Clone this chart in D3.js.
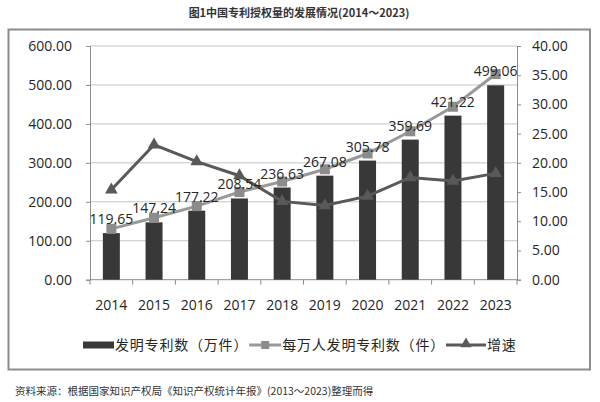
<!DOCTYPE html>
<html>
<head>
<meta charset="utf-8">
<script src="https://cdn.jsdelivr.net/npm/d3@7/dist/d3.min.js"></script>
<style>
  html, body { margin: 0; padding: 0; background: #fff; }
  svg { display: block; }
</style>
</head>
<body>
<svg id="chart" width="600" height="402"></svg>
<script>
const years = ["2014","2015","2016","2017","2018","2019","2020","2021","2022","2023"];
const patents = [119.65,147.24,177.22,208.54,236.63,267.08,305.78,359.69,421.22,499.06];
const perTenThousand = [8.7,10.6,12.6,15.0,16.8,18.9,21.6,25.4,29.6,35.2];
const growth = [15.4,23.1,20.2,17.8,13.4,12.7,14.3,17.5,16.9,18.2];
const leftTicks = [0,100,200,300,400,500,600];
const rightTicks = [0,5,10,15,20,25,30,35,40];
const legendLabels = ["发明专利数（万件）","每万人发明专利数（件）","增速"];
const titleText = "图1中国专利授权量的发展情况(2014～2023)";
const sourceText = "资料来源：根据国家知识产权局《知识产权统计年报》(2013～2023)整理而得";

const latin = "'Open Sans', 'Noto Sans', sans-serif";
const cjk = "'Noto Sans CJK SC', 'Noto Sans', sans-serif";
const barColor = "#383838", sqColor = "#999999", sqMarker = "#8c8c8c", triColor = "#595959";
const axisColor = "#8c8c8c", gridColor = "#c4c4c4", textColor = "#262626";

const svg = d3.select("#chart");
svg.append("rect").attr("width",600).attr("height",402).attr("fill","#fff");

// title
svg.append("text").attr("x",299).attr("y",17).attr("text-anchor","middle")
  .attr("font-family",cjk).attr("font-size",11).attr("font-weight","bold")
  .attr("fill","#333").text(titleText);

// frame
svg.append("rect").attr("x",8.5).attr("y",29.5).attr("width",581.5).attr("height",340)
  .attr("fill","none").attr("stroke",axisColor).attr("stroke-width",2);

const x0 = 90, x1 = 517, yTop = 46, yBot = 279.7;
const x = d3.scaleBand().domain(years).range([x0,x1]);
const yL = d3.scaleLinear().domain([0,600]).range([yBot,yTop]);
const yR = d3.scaleLinear().domain([0,40]).range([yBot,yTop]);
const cx = d => x(d) + x.bandwidth()/2;

// gridlines
svg.append("g").selectAll("line").data(leftTicks.filter(t=>t>0)).join("line")
  .attr("x1",x0).attr("x2",x1).attr("y1",d=>yL(d)).attr("y2",d=>yL(d))
  .attr("stroke",gridColor).attr("stroke-width",1);

// left axis
const gL = svg.append("g").attr("transform",`translate(${x0},0)`)
  .call(d3.axisLeft(yL).tickValues(leftTicks).tickSize(4).tickPadding(14).tickFormat(d3.format(".2f")));
// right axis
const gR = svg.append("g").attr("transform",`translate(${x1},0)`)
  .call(d3.axisRight(yR).tickValues(rightTicks).tickSize(4).tickPadding(11).tickFormat(d3.format(".2f")));
// x axis
const gX = svg.append("g").attr("transform",`translate(0,${yBot})`)
  .call(d3.axisBottom(x).tickSize(0).tickPadding(20));
// x tick marks at band boundaries
svg.append("g").selectAll("line").data(years.concat(["end"])).join("line")
  .attr("x1",(d,i)=> i<years.length ? x(d) : x1).attr("x2",(d,i)=> i<years.length ? x(d) : x1)
  .attr("y1",yBot).attr("y2",yBot+5).attr("stroke",axisColor);

[gL,gR,gX].forEach(g=>{
  g.select(".domain").attr("stroke",axisColor).attr("stroke-width",1);
  g.selectAll(".tick line").attr("stroke",axisColor);
  g.selectAll("text").attr("font-family",latin).attr("font-size",14).attr("fill",textColor);
});
gX.select(".domain").attr("d",`M${x0},0H${x1}`);

// bars
const bw = 17;
svg.append("g").selectAll("rect").data(years).join("rect")
  .attr("x",d=>cx(d)-bw/2).attr("width",bw)
  .attr("y",(d,i)=>yL(patents[i])).attr("height",(d,i)=>yBot-yL(patents[i]))
  .attr("fill",barColor);

// per ten-thousand line (squares)
const sqLine = d3.line().x((d,i)=>cx(years[i])).y(d=>yR(d));
svg.append("path").datum(perTenThousand).attr("d",sqLine)
  .attr("fill","none").attr("stroke",sqColor).attr("stroke-width",3);
svg.append("g").selectAll("rect").data(perTenThousand).join("rect")
  .attr("x",(d,i)=>cx(years[i])-5).attr("y",d=>yR(d)-5).attr("width",10).attr("height",10)
  .attr("fill",sqMarker);

// growth line (triangles)
const triLine = d3.line().x((d,i)=>cx(years[i])).y(d=>yR(d));
svg.append("path").datum(growth).attr("d",triLine)
  .attr("fill","none").attr("stroke",triColor).attr("stroke-width",3);
const tri = d3.symbol().type(d3.symbolTriangle).size(70);
svg.append("g").selectAll("path").data(growth).join("path")
  .attr("transform",(d,i)=>`translate(${cx(years[i])},${yR(d)})`)
  .attr("d",tri).attr("fill",triColor);

// data labels
svg.append("g").selectAll("text").data(patents).join("text")
  .attr("x",(d,i)=>cx(years[i])).attr("y",d=>yL(d)-9).attr("text-anchor","middle")
  .attr("font-family",latin).attr("font-size",14).attr("fill",textColor)
  .text(d=>d3.format(".2f")(d));

// legend
const lg = svg.append("g");
const ly = 345;
let lx = 83;
lg.append("rect").attr("x",lx).attr("y",ly-3.5).attr("width",31).attr("height",7).attr("fill",barColor);
lx += 32;
function legendText(t){
  const el = lg.append("text").attr("x",lx).attr("y",ly+5).attr("font-family",cjk)
    .attr("font-size",14).attr("letter-spacing","0.8px").attr("fill",textColor).text(t);
  lx += el.node().getComputedTextLength() + 1;
}
legendText(legendLabels[0]);
lg.append("line").attr("x1",lx).attr("x2",lx+32).attr("y1",ly).attr("y2",ly).attr("stroke",sqColor).attr("stroke-width",3);
lg.append("rect").attr("x",lx+12).attr("y",ly-4).attr("width",8).attr("height",8).attr("fill",sqMarker);
lx += 33;
legendText(legendLabels[1]);
lg.append("line").attr("x1",lx).attr("x2",lx+40).attr("y1",ly).attr("y2",ly).attr("stroke",triColor).attr("stroke-width",3);
lg.append("path").attr("transform",`translate(${lx+20},${ly-1})`).attr("d",d3.symbol().type(d3.symbolTriangle).size(55)).attr("fill",triColor);
lx += 41;
legendText(legendLabels[2]);

// source
svg.append("text").attr("x",15).attr("y",395).attr("font-family",cjk).attr("font-size",10.5)
  .attr("fill","#333").text(sourceText);
</script>
</body>
</html>
